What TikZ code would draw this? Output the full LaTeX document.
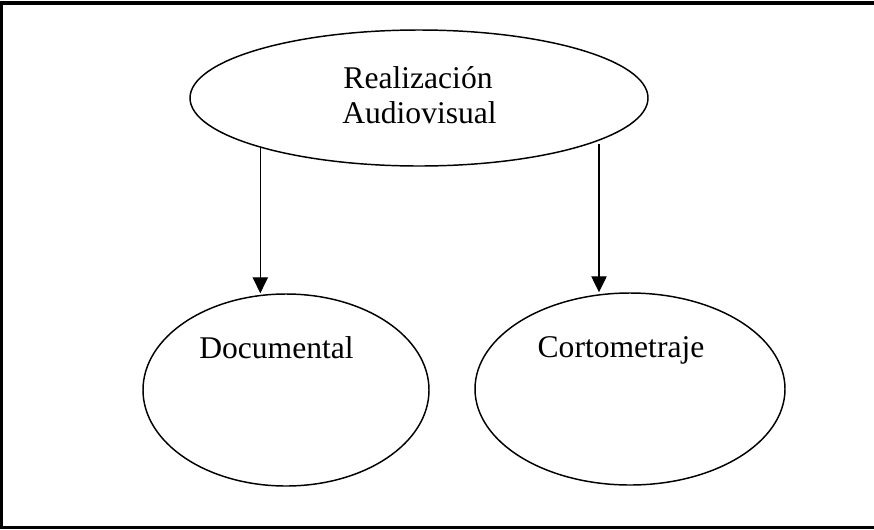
\documentclass[tikz,border=0pt]{standalone}
\usepackage{fontspec}
\setmainfont{Liberation Serif}
\usetikzlibrary{shapes.geometric,arrows.meta}
\begin{document}
\begin{tikzpicture}[x=0.75pt,y=-0.75pt,
  oval/.style={draw=black,line width=1.1pt,ellipse,inner sep=0pt},
  lbl/.style={inner sep=0pt,anchor=base,font=\fontsize{23.7}{26.25}\selectfont},
  frameline/.style={line width=2.8pt,line cap=rect},
  conn/.style={line width=1pt,-{Triangle[length=12pt,width=11.5pt]}}]
\useasboundingbox (0,0) rectangle (874,529);
% frame
\coordinate (f1) at (874,3);
\coordinate (f2) at (1.5,3);
\coordinate (f3) at (1.5,527.6);
\coordinate (f4) at (874,527.6);
\draw[frameline] (f1) -- (f2) -- (f3) -- (f4);
% ellipses
\node[oval,minimum width=343.5pt,minimum height=102pt] (top) at (419,98) {};
\node[oval,minimum width=214.5pt,minimum height=144pt] (doc) at (286,390) {};
\node[oval,minimum width=232.5pt,minimum height=144pt] (cor) at (630,389) {};
% texts
\node[lbl] (t1) at (418,88) {Realización};
\node[lbl] (t2) at (419.5,123) {Audiovisual};
\node[lbl] (t3) at (276.5,358) {Documental};
\node[lbl] (t4) at (621,357) {Cortometraje};
% connectors
\coordinate (s1) at (260.3,148);
\coordinate (s2) at (599,144);
\draw[conn] (s1) -- (s1 |- doc.north);
\draw[conn] (s2) -- (s2 |- cor.north);
\end{tikzpicture}
\end{document}
